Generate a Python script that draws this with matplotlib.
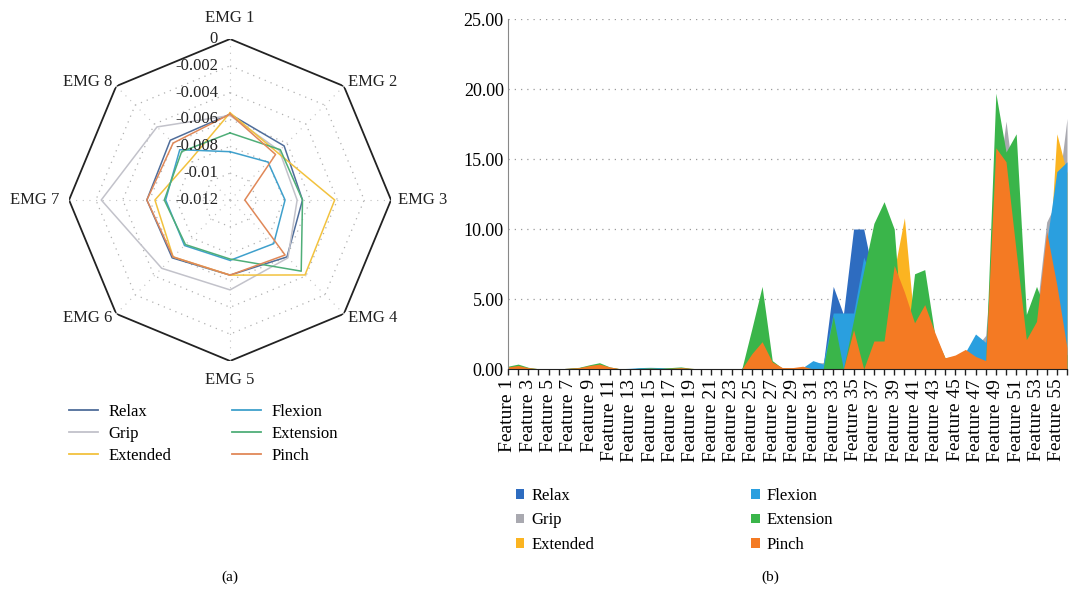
import numpy as np
import matplotlib
matplotlib.use("Agg")
import matplotlib.pyplot as plt
from matplotlib.patches import Patch
from matplotlib.lines import Line2D

plt.rcParams['font.family'] = ['Liberation Serif', 'DejaVu Serif']

# ---- data: (a) radar ----
emg_labels = ["EMG 1", "EMG 2", "EMG 3", "EMG 4", "EMG 5", "EMG 6", "EMG 7", "EMG 8"]
radar_ticks = [0, -0.002, -0.004, -0.006, -0.008, -0.01, -0.012]

relax_emg = [-0.0056, -0.0063, -0.0066, -0.0060, -0.0064, -0.0059, -0.0058, -0.0057]
grip_emg = [-0.0057, -0.0068, -0.0070, -0.0059, -0.0053, -0.0048, -0.0024, -0.0043]
extended_emg = [-0.0055, -0.0070, -0.0042, -0.0041, -0.0064, -0.0060, -0.0064, -0.0078]
flexion_emg = [-0.0084, -0.0080, -0.0079, -0.0074, -0.0075, -0.0072, -0.0072, -0.0067]
extension_emg = [-0.0070, -0.0067, -0.0066, -0.0045, -0.0076, -0.0073, -0.0071, -0.0069]
pinch_emg = [-0.0056, -0.0072, -0.0109, -0.0062, -0.0064, -0.0060, -0.0058, -0.0060]

# ---- data: (b) feature areas ----
features = [f"Feature {i}" for i in range(1, 57)]
y_ticks = [0, 5, 10, 15, 20, 25]

relax = [0.05, 0.1, 0.05, 0.02, 0.02, 0.02, 0.05, 0.1, 0.15, 0.2,
         0.05, 0.02, 0.02, 0.05, 0.05, 0.05, 0.05, 0.05, 0.02, 0.0,
         0.0, 0.0, 0.0, 0.0, 0.5, 1.0, 0.3, 0.05, 0.05, 0.1,
         0.3, 0.2, 5.9, 3.9, 10.0, 10.0, 6.5, 5.0, 4.0, 3.0,
         2.5, 2.0, 1.2, 0.5, 0.6, 0.9, 0.5, 0.4, 9.0, 8.0,
         6.0, 1.5, 2.0, 6.0, 8.0, 1.0]
grip = [0.05, 0.15, 0.05, 0.02, 0.02, 0.02, 0.05, 0.1, 0.2, 0.3,
        0.1, 0.02, 0.02, 0.05, 0.05, 0.05, 0.05, 0.1, 0.02, 0.0,
        0.0, 0.0, 0.0, 0.0, 1.5, 3.5, 0.4, 0.05, 0.05, 0.1,
        0.45, 0.45, 2.0, 1.0, 3.0, 2.0, 3.0, 6.0, 5.0, 4.0,
        3.0, 3.0, 1.5, 0.5, 0.7, 1.0, 1.5, 2.4, 12.0, 17.7,
        12.0, 3.0, 4.0, 10.5, 12.0, 17.9]
extended = [0.05, 0.15, 0.05, 0.02, 0.02, 0.02, 0.05, 0.1, 0.2, 0.3,
            0.1, 0.02, 0.02, 0.05, 0.05, 0.05, 0.05, 0.1, 0.02, 0.0,
            0.0, 0.0, 0.0, 0.0, 1.0, 2.5, 0.3, 0.05, 0.05, 0.1,
            0.2, 0.2, 2.5, 1.5, 3.0, 2.0, 4.0, 6.0, 7.0, 10.8,
            3.0, 3.0, 1.5, 0.5, 0.7, 1.0, 0.8, 0.5, 15.0, 13.0,
            10.0, 2.5, 3.5, 5.0, 16.8, 14.0]
flexion = [0.02, 0.05, 0.02, 0.01, 0.01, 0.01, 0.03, 0.05, 0.1, 0.15,
           0.05, 0.02, 0.05, 0.1, 0.12, 0.1, 0.05, 0.05, 0.02, 0.0,
           0.0, 0.0, 0.0, 0.0, 1.5, 3.0, 0.3, 0.05, 0.05, 0.1,
           0.6, 0.35, 4.0, 4.0, 4.0, 8.0, 6.0, 5.0, 4.0, 3.0,
           2.5, 2.0, 1.5, 0.6, 0.8, 1.2, 2.5, 1.9, 10.0, 9.0,
           8.0, 2.0, 3.0, 9.0, 14.1, 14.8]
extension = [0.2, 0.35, 0.12, 0.02, 0.02, 0.02, 0.05, 0.12, 0.3, 0.45,
             0.15, 0.02, 0.02, 0.05, 0.08, 0.05, 0.1, 0.15, 0.05, 0.0,
             0.0, 0.0, 0.0, 0.0, 2.9, 5.9, 0.6, 0.05, 0.05, 0.1,
             0.0, 0.0, 3.8, 0.0, 3.5, 7.0, 10.4, 11.95, 10.0, 0.5,
             6.8, 7.1, 2.4, 0.8, 0.9, 1.2, 0.7, 0.5, 19.7, 15.5,
             16.8, 3.9, 5.9, 4.0, 2.0, 1.0]
pinch = [0.15, 0.25, 0.1, 0.02, 0.02, 0.02, 0.05, 0.1, 0.25, 0.35,
         0.15, 0.02, 0.02, 0.03, 0.05, 0.03, 0.05, 0.1, 0.05, 0.0,
         0.0, 0.0, 0.0, 0.0, 1.1, 1.95, 0.5, 0.1, 0.1, 0.2,
         0.0, 0.0, 0.0, 0.0, 2.8, 0.0, 2.0, 2.0, 7.4, 5.5,
         3.3, 4.6, 2.6, 0.8, 1.0, 1.4, 0.9, 0.6, 15.8, 14.8,
         8.4, 2.1, 3.4, 9.8, 6.0, 1.5]

# draw order (back to front) and colours
names = ["Relax", "Grip", "Extended", "Flexion", "Extension", "Pinch"]
radar_series = [relax_emg, grip_emg, extended_emg, flexion_emg, extension_emg, pinch_emg]
area_series = [relax, grip, extended, flexion, extension, pinch]
line_colors = ["#4f6d9a", "#c2c2ca", "#f2c23e", "#3fa0cc", "#4fae78", "#e08858"]
fill_colors = ["#2e6cc0", "#a9a9b0", "#fbb421", "#2a9fdf", "#3ab54a", "#f47a23"]

fig = plt.figure(figsize=(10.77, 5.89), dpi=100)

# ---------- (a) radar ----------
axr = fig.add_axes([0.0641, 0.3871, 0.299, 0.5467], projection='polar')
axr.set_theta_zero_location('N')
axr.set_theta_direction(-1)
axr.set_ylim(radar_ticks[-1], radar_ticks[0])
axr.grid(False)
axr.spines['polar'].set_visible(False)
axr.set_xticks([])
axr.set_yticks([])
axr.patch.set_alpha(0)

n = len(emg_labels)
ang = np.linspace(0, 2 * np.pi, n, endpoint=False)
ang_c = np.append(ang, ang[0])

# octagon grid
for t in radar_ticks[1:-1]:
    axr.plot(ang_c, [t] * (n + 1), color="#b0b0b0", lw=0.9, ls=(0, (1, 4)))
axr.plot(ang_c, [radar_ticks[0]] * (n + 1), color="#222222", lw=1.3)
for a in ang:
    axr.plot([a, a], [radar_ticks[-1], radar_ticks[0]], color="#c0c0c0", lw=0.8, ls=(0, (1, 5)))

for vals, c, nm in zip(radar_series, line_colors, names):
    axr.plot(ang_c, list(vals) + [vals[0]], color=c, lw=1.1, label=nm)

for t in radar_ticks:
    axr.annotate(f"{t:g}", xy=(0, t), xytext=(-12, 0), textcoords='offset pixels',
                 ha='right', va='center', fontsize=12, color="#222222")

label_offsets = [(0, 21), (29, 4), (32, 0), (29, -4), (0, -19), (-29, -4), (-34, 0), (-29, 4)]
for a, lab, off in zip(ang, emg_labels, label_offsets):
    axr.annotate(lab, xy=(a, radar_ticks[0]), xytext=off, textcoords='offset pixels',
                 ha='center', va='center', fontsize=12, color="#222222", annotation_clip=False)

h_a = [Line2D([0], [0], color=c, lw=1.3) for c in line_colors]
fig.legend(h_a, names, ncol=2, loc='upper left', bbox_to_anchor=(0.050, 0.3396),
           frameon=False, fontsize=12, handlelength=1.75, handletextpad=0.65,
           labelspacing=0.36, columnspacing=3.6)

fig.text(230 / 1077, 1 - 577 / 589, "(a)", ha='center', va='center', fontsize=11)

# ---------- (b) overlapping areas ----------
axb = fig.add_axes([508 / 1077, 1 - 369 / 589, (1067 - 508) / 1077, 350 / 589])
x = np.arange(1, len(features) + 1)
for vals, c in zip(area_series, fill_colors):
    axb.fill_between(x, 0, vals, color=c, lw=0)

axb.set_xlim(x[0], x[-1])
axb.set_ylim(y_ticks[0], y_ticks[-1])
axb.set_yticks(y_ticks)
axb.set_yticklabels([f"{v:.2f}" for v in y_ticks], fontsize=13)
axb.tick_params(axis='y', length=0, pad=3)
axb.set_xticks(x)
axb.set_xticklabels([f if i % 2 == 0 else "" for i, f in enumerate(features)],
                    rotation=90, fontsize=14)
axb.tick_params(axis='x', length=4, width=1, direction='out', color="#222222", pad=3)
for v in y_ticks[1:]:
    axb.axhline(v, color="#9a9a9a", lw=0.9, ls=(0, (1, 4)), zorder=0)
axb.spines['top'].set_visible(False)
axb.spines['right'].set_visible(False)
axb.spines['left'].set_color("#888888")
axb.spines['bottom'].set_color("#222222")
axb.set_facecolor('none')

h_b = [Patch(facecolor=c) for c in fill_colors]
fig.legend(h_b, names, ncol=2, loc='upper left', bbox_to_anchor=(0.465, 0.197),
           frameon=False, fontsize=12, handlelength=0.5, handleheight=0.5,
           handletextpad=0.45, labelspacing=0.51, columnspacing=9.4)

fig.text(770 / 1077, 1 - 577 / 589, "(b)", ha='center', va='center', fontsize=11)

fig.savefig("out.png", dpi=100)
